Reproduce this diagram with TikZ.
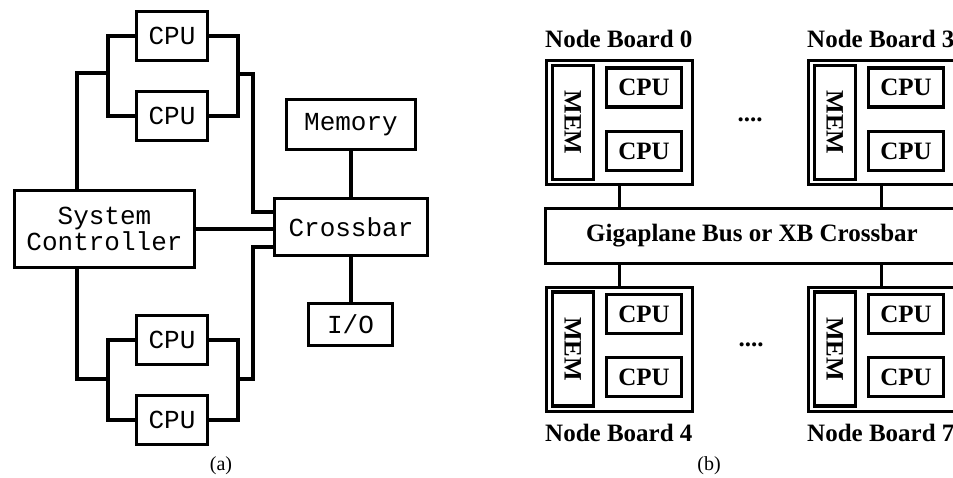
\documentclass[tikz,border=0pt]{standalone}
\usepackage{fontspec}
\setmainfont{Liberation Serif}
\setmonofont{Liberation Mono}
\usetikzlibrary{calc}

\begin{document}
\begin{tikzpicture}[
		x=1pt, y=-1pt,
		box/.style={draw, line width=3.4pt, inner sep=0pt, align=center,
			font=\ttfamily\fontsize{26}{26}\selectfont},
		wire/.style={line width=3.4pt},
		board/.style={draw, line width=3pt, inner sep=0pt,
			minimum width=146pt, minimum height=124pt},
		membox/.style={draw, line width=3.2pt, inner sep=0pt, rotate=-90,
			minimum width=114pt, minimum height=41pt,
			font=\bfseries\fontsize{25}{25}\selectfont},
		cpubox/.style={draw, line width=3.2pt, inner sep=0pt,
			minimum width=75pt, minimum height=39pt,
			font=\bfseries\fontsize{25}{25}\selectfont},
		label/.style={inner sep=0pt, font=\bfseries\fontsize{25}{25}\selectfont},
		link/.style={line width=3pt}
		]
		\clip (0,0) rectangle (953,477);
		% (a) bus based system
		\node[box, minimum width=71pt, minimum height=49pt] (cpuA) at (172,36) {CPU};
		\node[box, minimum width=71pt, minimum height=49pt] (cpuB) at (172,116) {CPU};
		\node[box, minimum width=71pt, minimum height=49pt] (cpuC) at (172,340) {CPU};
		\node[box, minimum width=71pt, minimum height=49pt] (cpuD) at (172,420) {CPU};
		\node[box, minimum width=180pt, minimum height=77pt] (sysctl) at (104.5,229) {System\\Controller};
		\node[box, minimum width=129pt, minimum height=50pt] (mem) at (351,124.5) {Memory};
		\node[box, minimum width=153pt, minimum height=57pt] (xbar) at (351,227) {Crossbar};
		\node[box, minimum width=84pt, minimum height=42pt] (io) at (350.5,324.5) {I/O};
		
		\coordinate (tbusL) at (108,73);
		\coordinate (tl) at (77,73);
		\coordinate (tbusR) at (238,74);
		\coordinate (tr) at (253,74);
		\coordinate (bbusL) at (108,379);
		\coordinate (bl) at (77,379);
		\coordinate (bbusR) at (238,379);
		\coordinate (br) at (253,379);
		\coordinate (xin1) at ($(xbar.west)+(0,-15)$);
		\coordinate (xin2) at ($(xbar.west)+(0,20)$);
		
		\draw[wire] (cpuA.west) -| (tbusL) |- (cpuB.west);
		\draw[wire] (tbusL) -- (tl) -- (tl |- sysctl.north);
		\draw[wire] (cpuA.east) -| (tbusR) |- (cpuB.east);
		\draw[wire] (tbusR) -- (tr) |- (xin1);
		\draw[wire] (sysctl.east) -- (sysctl.east -| xbar.west);
		\draw[wire] (xin2) -| (br) -- (bbusR);
		\draw[wire] (cpuC.east) -| (bbusR) |- (cpuD.east);
		\draw[wire] (cpuC.west) -| (bbusL) |- (cpuD.west);
		\draw[wire] (bbusL) -- (bl) -- (bl |- sysctl.south);
		\draw[wire] (mem.south) -- (xbar.north);
		\draw[wire] (xbar.south) -- (xbar.south |- io.north);
		
		\node[font=\fontsize{20}{20}\selectfont] (capA) at (221,466) {(a)};
		
		% (b) node boards on a shared interconnect
		\node[board] (nb0) at (619.5,122.5) {};
		\node[board] (nb3) at (881.5,122.5) {};
		\node[board] (nb4) at (619.5,349) {};
		\node[board] (nb7) at (881.5,349) {};
		
		\node[membox] (mem0) at ($(nb0)+(-46.6,0)$) {MEM};
		\node[cpubox] (cpu0a) at ($(nb0)+(24.5,-35)$) {CPU};
		\node[cpubox] (cpu0b) at ($(nb0)+(24.5,28.5)$) {CPU};
		\node[membox] (mem3) at ($(nb3)+(-46.6,0)$) {MEM};
		\node[cpubox] (cpu3a) at ($(nb3)+(24.5,-35)$) {CPU};
		\node[cpubox] (cpu3b) at ($(nb3)+(24.5,28.5)$) {CPU};
		\node[membox] (mem4) at ($(nb4)+(-46.6,0)$) {MEM};
		\node[cpubox] (cpu4a) at ($(nb4)+(24.5,-35)$) {CPU};
		\node[cpubox] (cpu4b) at ($(nb4)+(24.5,28)$) {CPU};
		\node[membox] (mem7) at ($(nb7)+(-46.6,0)$) {MEM};
		\node[cpubox] (cpu7a) at ($(nb7)+(24.5,-35)$) {CPU};
		\node[cpubox] (cpu7b) at ($(nb7)+(24.5,28)$) {CPU};
		
		\node[draw, line width=3pt, inner sep=0pt, minimum width=414pt, minimum height=55pt,
			font=\bfseries\fontsize{25}{25}\selectfont] (bus) at (752,236)
			{Gigaplane Bus or XB Crossbar\hspace{10pt}};
		
		\draw[link] (nb0.south) -- (nb0.south |- bus.north);
		\draw[link] (nb3.south) -- (nb3.south |- bus.north);
		\draw[link] (nb4.north) -- (nb4.north |- bus.south);
		\draw[link] (nb7.north) -- (nb7.north |- bus.south);
		
		\node[label, anchor=base west] (lb0) at (545,47) {Node Board 0};
		\node[label, anchor=base west] (lb3) at (807,47) {Node Board 3};
		\node[label, anchor=base west] (lb4) at (545,441) {Node Board 4};
		\node[label, anchor=base west] (lb7) at (807,441) {Node Board 7};
		\node[label] (dots0) at (750,120) {....};
		\node[label] (dots4) at (751,345) {....};
		
		\node[font=\fontsize{20}{20}\selectfont] (capB) at (709,466) {(b)};
\end{tikzpicture}
\end{document}
